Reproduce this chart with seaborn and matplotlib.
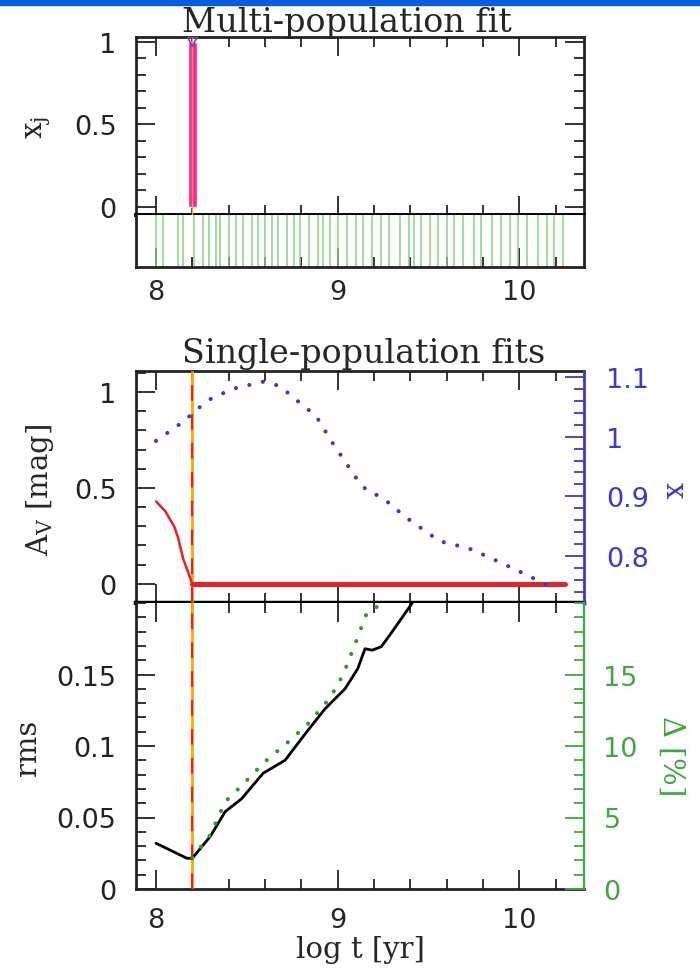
import numpy as np
import pandas as pd
import matplotlib
matplotlib.use("Agg")
import matplotlib.pyplot as plt
import seaborn as sns
from matplotlib.ticker import MultipleLocator, FixedLocator, FuncFormatter
from matplotlib.patches import Rectangle

# ---------------- data ----------------
base_ages = [8.00, 8.04, 8.12, 8.15, 8.21, 8.26, 8.29, 8.33, 8.35, 8.40, 8.44,
             8.48, 8.53, 8.56, 8.60, 8.64, 8.67, 8.72, 8.76, 8.79, 8.84, 8.89,
             8.92, 8.96, 9.00, 9.05, 9.10, 9.14, 9.19, 9.24, 9.28, 9.34, 9.39,
             9.42, 9.46, 9.51, 9.55, 9.60, 9.64, 9.69, 9.75, 9.79, 9.85, 9.90,
             9.95, 9.99, 10.04, 10.10, 10.15, 10.19, 10.24]

xj_age = [8.2]
xj_val = [1.0]
best_age = 8.2

av_age = [8.00, 8.05, 8.10, 8.12, 8.15, 8.20, 10.25]
av_val = [0.43, 0.38, 0.30, 0.245, 0.13, 0.0, 0.0]

x_age = [8.00, 8.15, 8.23, 8.30, 8.42, 8.59, 8.68, 8.81, 8.88, 8.97, 9.03,
         9.11, 9.16, 9.23, 9.30, 9.36, 9.50, 9.56, 9.72, 9.84, 9.96, 10.11, 10.18]
x_val = [0.993, 1.025, 1.047, 1.063, 1.080, 1.092, 1.085, 1.052, 1.035, 0.990,
         0.963, 0.927, 0.910, 0.900, 0.885, 0.868, 0.838, 0.825, 0.813, 0.797,
         0.780, 0.758, 0.747]

rms_age = [8.00, 8.17, 8.20, 8.30, 8.38, 8.47, 8.59, 8.71, 8.83, 8.93, 9.04,
           9.11, 9.15, 9.19, 9.24, 9.30, 9.41]
rms_val = [0.032, 0.0215, 0.0215, 0.037, 0.054, 0.063, 0.081, 0.090, 0.110,
           0.126, 0.140, 0.154, 0.168, 0.167, 0.1695, 0.180, 0.200]

delta_age = [8.20, 8.30, 8.38, 8.47, 8.59, 8.72, 8.84, 8.96, 9.03, 9.11, 9.16, 9.25]
delta_val = [2.2, 3.8, 6.1, 7.2, 8.8, 10.2, 11.6, 13.4, 15.0, 17.6, 19.3, 20.0]

x_major = [8, 9, 10]

# ---------------- style ----------------
sns.set_theme(style="ticks")
plt.rcParams["font.family"] = ["DejaVu Sans"]
plt.rcParams["mathtext.fontset"] = "dejavuserif"
plt.rcParams["axes.facecolor"] = "white"
plt.rcParams["figure.facecolor"] = "white"

W, H = 700, 978
fig = plt.figure(figsize=(W / 100, H / 100), dpi=100)

def axes_px(l, t, r, b):
    return fig.add_axes([l / W, 1 - b / H, (r - l) / W, (b - t) / H])

def ftext(x, y, s, **kw):
    fig.text(x / W, 1 - y / H, s, **kw)

XL = (7.89, 10.355)
TICKFS = 19.5
LABFS = 21
TITFS = 24
SERIF = "DejaVu Serif"
fmt = FuncFormatter(lambda v, p: ("%g" % round(v, 4)))

def frame(ax, lw=2.0, color="#222222"):
    for s in ax.spines.values():
        s.set_linewidth(lw)
        s.set_color(color)

def xticks(ax, bottom=True, top=True, labels=False, pad=10):
    ax.set_xlim(*XL)
    ax.xaxis.set_major_locator(FixedLocator(x_major))
    ax.xaxis.set_minor_locator(MultipleLocator(0.2))
    ax.tick_params(axis="x", which="both", direction="in", bottom=bottom, top=top,
                   labelbottom=labels, labeltop=False, color="#222222",
                   labelsize=TICKFS, pad=pad)
    ax.tick_params(axis="x", which="major", length=14, width=1.3)
    ax.tick_params(axis="x", which="minor", length=7, width=1.3)

def yticks(ax, major, minor, lim, left=True, right=False, labelleft=True,
           labelright=False, color="#222222", pad=14, fixed=None):
    ax.set_ylim(*lim)
    if fixed is not None:
        ax.yaxis.set_major_locator(FixedLocator(fixed))
    else:
        ax.yaxis.set_major_locator(MultipleLocator(major))
    ax.yaxis.set_minor_locator(MultipleLocator(minor))
    ax.yaxis.set_major_formatter(fmt)
    ax.tick_params(axis="y", which="both", direction="in", left=left, right=right,
                   labelleft=labelleft, labelright=labelright, color=color,
                   labelcolor=color, labelsize=TICKFS, pad=pad)
    ax.tick_params(axis="y", which="major", length=14, width=1.3)
    ax.tick_params(axis="y", which="minor", length=7, width=1.3)

DOTS = (0, (0.01, 3.3))

# blue bar at the very top
fig.add_artist(Rectangle((0, 1 - 6 / H), 1, 6 / H, transform=fig.transFigure,
                         color="#0a5ae6", zorder=10))

# ---------------- top panel: multi-population fit ----------------
ax1 = axes_px(136, 38, 584, 216)
frame(ax1)
ax1.spines["bottom"].set_linewidth(2.8)
ax1.spines["bottom"].set_color("black")
xticks(ax1, bottom=True, top=True, labels=False)
yticks(ax1, 0.5, 0.1, (-0.05, 1.03), left=True, right=True)
ax1.bar(xj_age, xj_val, width=0.05, align="center", color="#ff1fae", zorder=2)
ax1.axvline(best_age, color="#ffa500", lw=1.0, zorder=3)
sns.scatterplot(x=xj_age, y=xj_val, ax=ax1, marker="v", s=45,
                facecolor="none", edgecolor="#7a3cc8", linewidth=1.2, zorder=4)

ax1s = axes_px(136, 216, 584, 268)
frame(ax1s)
ax1s.spines["top"].set_visible(False)
xticks(ax1s, bottom=True, top=False, labels=True, pad=9)
ax1s.set_ylim(0, 1)
ax1s.set_yticks([])
ax1s.vlines(base_ages, 0, 1, color="#86cf86", lw=1.1)

ftext(347, 32, "Multi-population fit", ha="center", va="baseline",
      size=TITFS, family=SERIF)
ftext(42, 128, r"x$_\mathrm{j}$", rotation=90, rotation_mode="anchor",
      ha="center", va="baseline", size=LABFS, family=SERIF)

# ---------------- middle panel: A_V and x ----------------
ax2 = axes_px(136, 372, 584, 604)
frame(ax2)
ax2.spines["right"].set_visible(False)
ax2.spines["bottom"].set_linewidth(3.2)
ax2.spines["bottom"].set_color("black")
xticks(ax2, bottom=True, top=True, labels=False)
yticks(ax2, 0.5, 0.1, (-0.1, 1.11), left=True, right=False)

ax2r = ax2.twinx()
for k in ["left", "top", "bottom"]:
    ax2r.spines[k].set_visible(False)
ax2r.spines["right"].set_color("#3a3ad0")
ax2r.spines["right"].set_linewidth(2.0)
yticks(ax2r, 0.1, 0.02, (0.7214, 1.11), left=False, right=True,
       labelleft=False, labelright=True, color="#3a3ad0", pad=16)

ax2.axvline(best_age, color="#ffa500", lw=2.0, zorder=3)
ax2.axvline(best_age, color="#e8202a", lw=1.6, linestyle=(0, (7, 6)), zorder=4)

av_df = pd.DataFrame({"age": av_age, "av": av_val})
sns.lineplot(data=av_df, x="age", y="av", ax=ax2, color="#e8202a", lw=1.8,
             sort=False, estimator=None, zorder=5)
sns.lineplot(data=av_df[av_df["av"] == 0], x="age", y="av", ax=ax2,
             color="#e8202a", lw=3.6, sort=False, estimator=None, zorder=5)
sns.lineplot(x=x_age, y=x_val, ax=ax2r, color="#3a3ad0", lw=3.0,
             linestyle=DOTS, dash_capstyle="round",
             sort=False, estimator=None)
ax2.set_xlabel("")
ax2.set_ylabel("")
ax2r.set_ylabel("")
ax2.set_xlim(*XL)

ftext(364, 363, "Single-population fits", ha="center", va="baseline",
      size=TITFS, family=SERIF)
ftext(48, 490, r"A$_\mathrm{V}$ [mag]", rotation=90, rotation_mode="anchor",
      ha="center", va="baseline", size=LABFS, family=SERIF)
ftext(666, 490, "x", rotation=-90, rotation_mode="anchor",
      ha="center", va="baseline", size=LABFS, family=SERIF, color="#3a3ad0")

# ---------------- bottom panel: rms and Delta ----------------
ax3 = axes_px(136, 604, 584, 890)
frame(ax3)
ax3.spines["right"].set_visible(False)
ax3.spines["top"].set_visible(False)
xticks(ax3, bottom=True, top=True, labels=True, pad=13)
yticks(ax3, 0.05, 0.01, (0, 0.2), left=True, right=False,
       fixed=[0, 0.05, 0.1, 0.15])

ax3r = ax3.twinx()
for k in ["left", "top", "bottom"]:
    ax3r.spines[k].set_visible(False)
ax3r.spines["right"].set_color("#3fa83f")
ax3r.spines["right"].set_linewidth(1.6)
yticks(ax3r, 5, 1, (0, 20), left=False, right=True, labelleft=False,
       labelright=True, color="#3fa83f", pad=14, fixed=[0, 5, 10, 15])

ax3.axvline(best_age, color="#ffa500", lw=2.0, zorder=3)
ax3.axvline(best_age, color="#e8202a", lw=1.6, linestyle=(0, (7, 6)), zorder=4)

sns.lineplot(x=delta_age, y=delta_val, ax=ax3r, color="#2e9a2e", lw=3.0,
             linestyle=DOTS, dash_capstyle="round",
             sort=False, estimator=None)
sns.lineplot(x=rms_age, y=rms_val, ax=ax3, color="black", lw=2.0,
             sort=False, estimator=None, zorder=5)
ax3.set_ylim(0, 0.2)
ax3r.set_ylim(0, 20)
ax3.set_xlim(*XL)
ax3.set_xlabel("")
ax3.set_ylabel("")
ax3r.set_ylabel("")

ftext(360, 958, "log t [yr]", ha="center", va="baseline", size=LABFS, family=SERIF)
ftext(36, 748, "rms", rotation=90, rotation_mode="anchor",
      ha="center", va="baseline", size=LABFS, family=SERIF)
ftext(663, 755, r"$\Delta$ [%]", rotation=-90, rotation_mode="anchor",
      ha="center", va="baseline", size=LABFS, family=SERIF, color="#3fa83f")

fig.savefig("out.png", dpi=100)
